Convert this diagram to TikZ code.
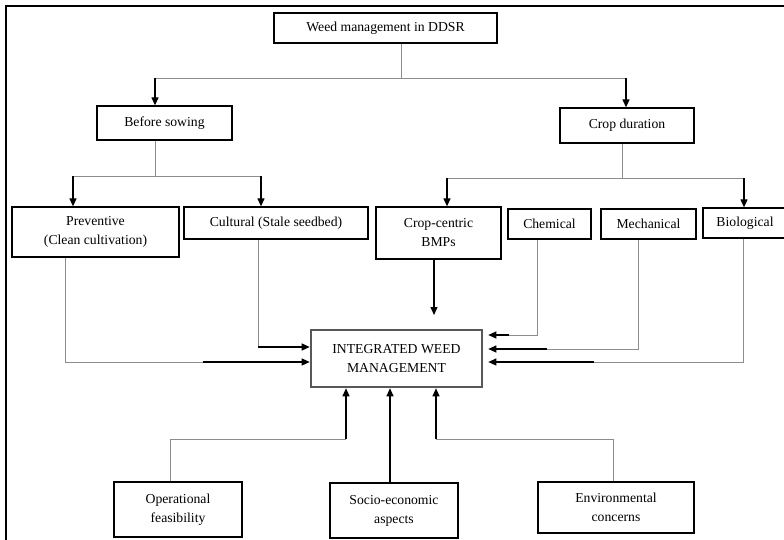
\documentclass[tikz,border=0pt]{standalone}
\usepackage{fontspec}
\setmainfont{Liberation Serif}
\usetikzlibrary{arrows.meta}
\definecolor{lgray}{HTML}{8C8C8C}
\definecolor{bgray}{HTML}{585858}
\begin{document}
\begin{tikzpicture}[x=1pt,y=-1pt,
  box/.style={draw=black,line width=1.3pt,inner sep=0pt,align=center,
    font={\fontsize{13.7}{19}\selectfont}},
  gline/.style={draw=lgray,line width=0.9pt},
  arr/.style={draw=black,line width=1.2pt,-{Triangle[length=8pt,width=7pt]}},
]
\useasboundingbox (0,0) rectangle (784,539);
\clip (0,0) rectangle (784,539);
\draw[line width=1.5pt] (6,545) -- (6,6) -- (790,6) -- (790,545);

\node[box,minimum width=223pt,minimum height=30pt] (ddsr) at (385.5,28) {Weed management in DDSR};
\node[box,minimum width=135pt,minimum height=34pt] (before) at (164.5,123) {Before sowing};
\node[box,minimum width=134pt,minimum height=35pt] (cropdur) at (627,125.5) {Crop duration};
\node[box,minimum width=167pt,minimum height=50pt] (prev) at (95.5,232) {Preventive\\(Clean cultivation)};
\node[box,minimum width=184pt,minimum height=32pt] (cult) at (276,223) {Cultural (Stale seedbed)};
\node[box,minimum width=125pt,minimum height=52pt] (ccbmp) at (438.5,233) {Crop-centric\\BMPs};
\node[box,minimum width=83pt,minimum height=30pt] (chem) at (549.5,224) {Chemical};
\node[box,minimum width=95pt,minimum height=30pt] (mech) at (648.5,224) {Mechanical};
\node[box,minimum width=84pt,minimum height=30pt] (bio) at (745,223) {Biological};
\node[box,draw=bgray,line width=2.6pt,minimum width=171pt,minimum height=57pt] (iwm) at (396.5,358.5) {INTEGRATED WEED\\MANAGEMENT};
\node[box,minimum width=128pt,minimum height=55pt] (oper) at (178,509.5) {Operational\\feasibility};
\node[box,minimum width=128pt,minimum height=55pt] (socio) at (394,510.5) {Socio-economic\\aspects};
\node[box,minimum width=156pt,minimum height=51pt] (env) at (616,507.5) {Environmental\\concerns};

% top split
\coordinate (j1) at (401,78);
\coordinate (a1) at (155,78);
\coordinate (a2) at (626,78);
\draw[gline] (ddsr.south -| j1) -- (j1);
\draw[gline] (a1) -- (a2);
\draw[arr] (a1) -- (a1 |- before.north);
\draw[arr] (a2) -- (a2 |- cropdur.north);

% before sowing split
\coordinate (j2) at (155,176);
\coordinate (b1) at (73,176);
\coordinate (b2) at (261,176);
\draw[gline] (before.south -| j2) -- (j2);
\draw[gline] (b1) -- (b2);
\draw[arr] (b1) -- (b1 |- prev.north);
\draw[arr] (b2) -- (b2 |- cult.north);

% crop duration split
\coordinate (j3) at (622,178);
\coordinate (c1) at (447,178);
\coordinate (c2) at (744,178);
\draw[gline] (cropdur.south -| j3) -- (j3);
\draw[gline] (c1) -- (c2);
\draw[arr] (c1) -- (c1 |- ccbmp.north);
\draw[arr] (c2) -- (c2 |- bio.north);

% crop-centric
\coordinate (cc) at (434,315);
\draw[arr] (ccbmp.south -| cc) -- (cc);

% right side inputs
\coordinate (ch1) at (537,335);
\coordinate (ch2) at (509,335);
\draw[gline] (chem.south -| ch1) -- (ch1) -- (ch2);
\draw[arr,shorten >=5pt] (ch2) -- (ch2 -| iwm.east);
\coordinate (me1) at (638,349);
\coordinate (me2) at (547,349);
\draw[gline] (mech.south -| me1) -- (me1) -- (me2);
\draw[arr,shorten >=5pt] (me2) -- (me2 -| iwm.east);
\coordinate (bi1) at (743,362);
\coordinate (bi2) at (594,362);
\draw[gline] (bio.south -| bi1) -- (bi1) -- (bi2);
\draw[arr,shorten >=5pt] (bi2) -- (bi2 -| iwm.east);

% left side inputs
\coordinate (pr1) at (65,362);
\coordinate (pr2) at (203,362);
\draw[gline] (prev.south -| pr1) -- (pr1) -- (pr2);
\draw[arr] (pr2) -- (pr2 -| iwm.west);
\coordinate (cu1) at (258,347);
\draw[gline] (cult.south -| cu1) -- (cu1);
\draw[arr] (cu1) -- (cu1 -| iwm.west);

% bottom inputs
\coordinate (op1) at (170,439);
\coordinate (op2) at (346,439);
\draw[gline] (oper.north -| op1) -- (op1) -- (op2);
\draw[arr] (op2) -- (op2 |- iwm.south);
\coordinate (so1) at (390,483);
\draw[arr] (so1) -- (so1 |- iwm.south);
\coordinate (en1) at (613,439);
\coordinate (en2) at (436,439);
\draw[gline] (env.north -| en1) -- (en1) -- (en2);
\draw[arr] (en2) -- (en2 |- iwm.south);
\end{tikzpicture}
\end{document}
